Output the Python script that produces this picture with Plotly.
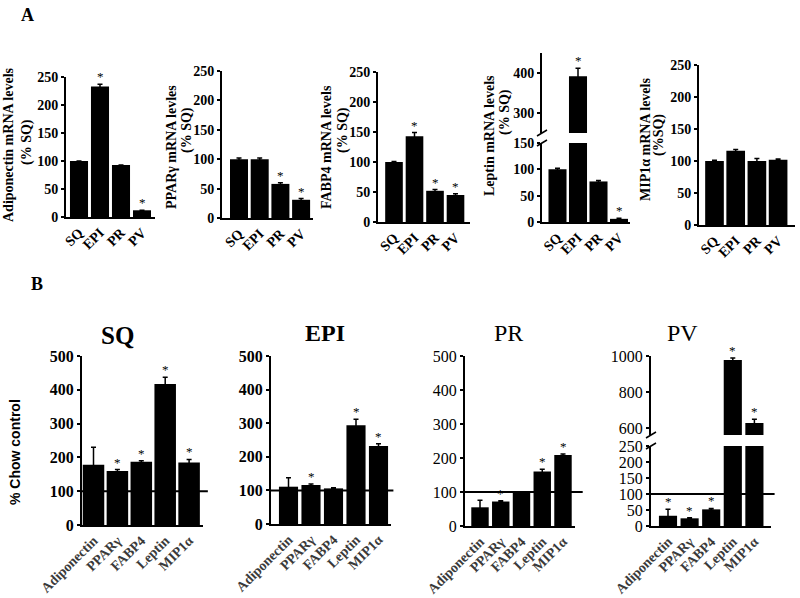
import plotly.graph_objects as go

W, H = 800, 598

# ---------------- data ----------------
a_sites = ["SQ", "EPI", "PR", "PV"]

adipo_a = [100, 233, 93, 12]
adipo_a_err = [0, 4, 0, 0]
adipo_a_sig = [False, True, False, True]

ppar_a = [100, 100, 58, 31]
ppar_a_err = [2, 2, 2, 2]
ppar_a_sig = [False, False, True, True]

fabp4_a = [100, 143, 52, 45]
fabp4_a_err = [1, 6, 2, 2]
fabp4_a_sig = [False, True, True, True]

leptin_a = [100, 392, 77, 6]
leptin_a_err = [2, 20, 2, 1]
leptin_a_sig = [False, True, False, True]

mip_a = [100, 116, 100, 102]
mip_a_err = [1, 2, 4, 1]
mip_a_sig = [False, False, False, False]

b_genes = ["Adiponectin", "PPARγ", "FABP4", "Leptin", "MIP1α"]

sq_b = [178, 160, 187, 417, 185]
sq_b_err = [52, 4, 3, 20, 9]
sq_b_sig = [False, True, True, True, True]

epi_b = [111, 116, 106, 294, 232]
epi_b_err = [27, 3, 2, 18, 7]
epi_b_sig = [False, True, False, True, True]

pr_b = [55, 72, 100, 160, 209]
pr_b_err = [21, 2, 1, 7, 3]
pr_b_sig = [False, True, False, True, True]

pv_b = [32, 24, 52, 978, 628]
pv_b_err = [20, 2, 3, 11, 21]
pv_b_sig = [True, True, True, True, True]

chow_ref = 100

# ---------------- helpers ----------------
SERIF = "Liberation Serif"
fig = go.Figure()
layout = {}
shapes = []
annotations = []
counter = {"x": 0, "y": 0}


def px_x(x):
    return x / W


def px_y(y):
    return 1 - y / H


def font(size, bold=True, color="black", family=SERIF):
    return dict(family=family, size=size, color=color,
                weight="bold" if bold else "normal")


def chart(cats, vals, errs, sigs, xL, xR, c0, s, segments, xfont, yfont,
          barw, ref=None, ref_ext=1.05):
    counter["x"] += 1
    xn = counter["x"]
    lo = -(c0 - xL) / s
    hi = (len(cats) - 1) + (xR - (c0 + s * (len(cats) - 1))) / s
    ynums = []
    for seg in segments:
        counter["y"] += 1
        ynums.append(counter["y"])
    xname = "xaxis" if xn == 1 else f"xaxis{xn}"
    layout[xname] = dict(
        domain=[px_x(xL), px_x(xR)], anchor=f"y{ynums[0]}", type="category",
        categoryorder="array", categoryarray=cats, range=[lo, hi],
        showline=True, linecolor="black", linewidth=2, ticks="",
        tickangle=-45, tickfont=xfont, showgrid=False, zeroline=False,
        automargin=False, fixedrange=True)
    for yn, (ybot, ytop, rlo, rhi, tv) in zip(ynums, segments):
        yname = "yaxis" if yn == 1 else f"yaxis{yn}"
        layout[yname] = dict(
            domain=[px_y(ybot), px_y(ytop)], anchor=f"x{xn}", range=[rlo, rhi],
            tickvals=tv, showline=True, linecolor="black", linewidth=2,
            ticks="outside", ticklen=3, tickwidth=1.5, tickcolor="black",
            tickfont=yfont, showgrid=False, zeroline=False, automargin=False,
            fixedrange=True)
        seg_err = [e if v <= rhi else 0 for v, e in zip(vals, errs)]
        fig.add_trace(go.Bar(
            x=cats, y=vals, xaxis=f"x{xn}", yaxis=f"y{yn}", width=barw,
            marker=dict(color="black", line=dict(width=0)),
            error_y=dict(type="data", array=seg_err, color="black",
                         thickness=1.5, width=2.5),
            showlegend=False, hoverinfo="skip"))
        # significance stars
        for c, v, e, sg in zip(cats, vals, errs, sigs):
            top = v + e
            if sg and rlo <= top <= rhi:
                annotations.append(dict(
                    text="*", x=c, y=top, xref=f"x{xn}", yref=f"y{yn}",
                    xanchor="center", yanchor="bottom", yshift=-2,
                    showarrow=False, font=font(13, bold=False)))
        if ref is not None and rlo <= ref <= rhi:
            shapes.append(dict(type="line", xref=f"x{xn} domain", x0=0,
                               x1=ref_ext, yref=f"y{yn}", y0=ref, y1=ref,
                               line=dict(color="black", width=2)))
    # break marks
    if len(segments) > 1:
        for ypix in (segments[0][1], segments[1][0]):
            shapes.append(dict(type="line", xref="paper", yref="paper",
                               x0=px_x(xL - 5), y0=px_y(ypix + 3),
                               x1=px_x(xL + 5), y1=px_y(ypix - 3),
                               line=dict(color="black", width=1.5)))


ax_a = font(14)
ya_a = font(14)

# ---------------- panel A ----------------
chart(a_sites, adipo_a, adipo_a_err, adipo_a_sig, 66, 155, 79, 21,
      [(217, 77, 0, 250, [0, 50, 100, 150, 200, 250])], ax_a, ya_a, 0.86)
chart(a_sites, ppar_a, ppar_a_err, ppar_a_sig, 222, 313, 239, 20.7,
      [(218, 71, 0, 250, [0, 50, 100, 150, 200, 250])], ax_a, ya_a, 0.87)
chart(a_sites, fabp4_a, fabp4_a_err, fabp4_a_sig, 378, 470, 394, 20.5,
      [(222, 72, 0, 250, [0, 50, 100, 150, 200, 250])], ax_a, ya_a, 0.86)
chart(a_sites, leptin_a, leptin_a_err, leptin_a_sig, 542, 630, 557.5, 20.5,
      [(222, 143, 0, 150, [0, 50, 100, 150]),
       (133, 53, 250, 450, [300, 400])], ax_a, ya_a, 0.88)
chart(a_sites, mip_a, mip_a_err, mip_a_sig, 699, 795, 714.5, 21.2,
      [(225, 65, 0, 250, [0, 50, 100, 150, 200, 250])], ax_a, ya_a, 0.88)

# ---------------- panel B ----------------
xb = font(14, color="#3a3a3a")
chart(b_genes, sq_b, sq_b_err, sq_b_sig, 82, 203, 93.5, 23.9,
      [(525, 356, 0, 500, [0, 100, 200, 300, 400, 500])], xb, font(16), 0.9,
      ref=chow_ref, ref_ext=1.04)
chart(b_genes, epi_b, epi_b_err, epi_b_sig, 271, 391, 288.5, 22.5,
      [(524, 356, 0, 500, [0, 100, 200, 300, 400, 500])], xb, font(16), 0.85,
      ref=chow_ref, ref_ext=1.02)
chart(b_genes, pr_b, pr_b_err, pr_b_sig, 465, 575, 480, 20.75,
      [(526, 356, 0, 500, [0, 100, 200, 300, 400, 500])], xb,
      font(16, bold=False), 0.84, ref=chow_ref, ref_ext=1.07)
chart(b_genes, pv_b, pv_b_err, pv_b_sig, 651, 771, 668, 21.6,
      [(526, 446, 0, 250, [0, 50, 100, 150, 200, 250]),
       (435, 356, 561, 1000, [600, 800, 1000])], xb,
      font(16, bold=False), 0.84, ref=chow_ref, ref_ext=1.03)


# ---------------- text ----------------
def ann(text, x, y, size, bold=True, angle=0, family=SERIF):
    annotations.append(dict(
        text=text, x=px_x(x), y=px_y(y), xref="paper", yref="paper",
        xanchor="center", yanchor="middle", showarrow=False, textangle=angle,
        font=font(size, bold=bold, family=family)))


ann("A", 27, 15, 18)
ann("B", 37, 284, 18)

ann("Adiponectin mRNA levels", 9, 145, 14, angle=-90)
ann("(% SQ)", 27, 142, 14, angle=-90)
ann("PPARγ mRNA levles", 172, 147, 14, angle=-90)
ann("(% SQ)", 187, 130, 14, angle=-90)
ann("FABP4 mRNA levels", 327, 147, 14, angle=-90)
ann("(% SQ)", 343, 130, 14, angle=-90)
ann("Leptin mRNA levels", 490, 136, 14, angle=-90)
ann("(% SQ)", 505, 112, 14, angle=-90)
ann("MIP1α mRNA levels", 645, 140, 14, angle=-90)
ann("(%SQ)", 659, 135, 14, angle=-90)

ann("% Chow control", 15, 452, 14, angle=-90, family="Liberation Sans")
ann("SQ", 117, 335, 25)
ann("EPI", 325, 333, 24)
ann("PR", 508, 333, 24, bold=False)
ann("PV", 682, 333, 24, bold=False)

layout.update(dict(
    template="none",
    width=W, height=H, margin=dict(l=0, r=0, t=0, b=0, autoexpand=False),
    paper_bgcolor="white", plot_bgcolor="rgba(0,0,0,0)", showlegend=False,
    shapes=shapes, annotations=annotations, bargap=0.1))
fig.update_layout(**layout)
fig.write_html(
    "out.html",
    config={"displayModeBar": False},
    post_script="document.body.style.margin='0';"
                "document.body.style.overflow='hidden';")
